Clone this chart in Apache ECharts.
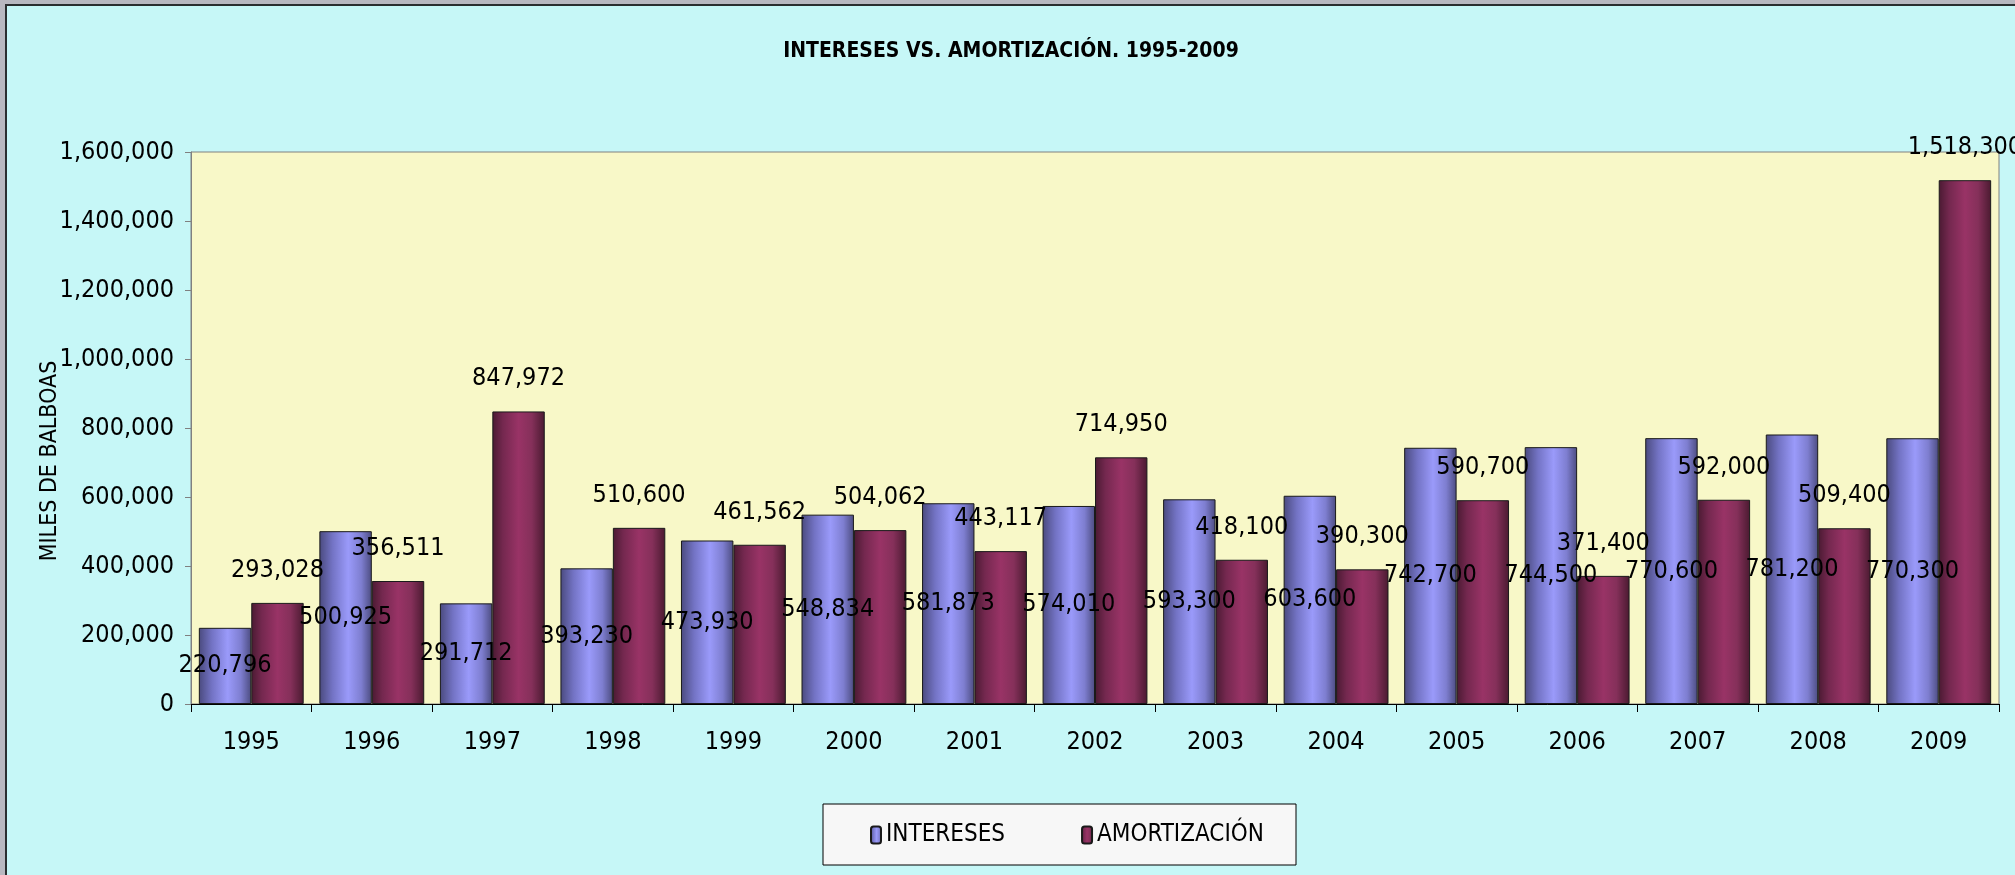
<!DOCTYPE html>
<html>
<head>
<meta charset="utf-8">
<script src="https://cdn.jsdelivr.net/npm/echarts@6/dist/echarts.min.js"></script>
<style>
  html, body { margin: 0; padding: 0; background: #b8b8c0; }
  #frame { position: absolute; left: 5px; top: 4px; width: 2010px; height: 871px;
           border-left: 2px solid #2a2e30; border-top: 2px solid #2a2e30; box-sizing: border-box; }
  #main { width: 100%; height: 100%; }
</style>
</head>
<body>
<div id="frame"><div id="main"></div></div>
<script>
// datos
const years = ["1995", "1996", "1997", "1998", "1999", "2000", "2001", "2002",
  "2003", "2004", "2005", "2006", "2007", "2008", "2009"];
const intereses = [220796, 500925, 291712, 393230, 473930, 548834, 581873, 574010,
  593300, 603600, 742700, 744500, 770600, 781200, 770300];
const amortizacion = [293028, 356511, 847972, 510600, 461562, 504062, 443117, 714950,
  418100, 390300, 590700, 371400, 592000, 509400, 1518300];
const yTicks = [0, 200000, 400000, 600000, 800000, 1000000, 1200000, 1400000, 1600000];

const FONT = "'Liberation Sans Narrow', 'Arial Narrow', 'DejaVu Sans Condensed', sans-serif";
const fmt = v => v.toLocaleString("en-US");

const myChart = echarts.init(document.getElementById("main"));

function grad(stops) {
  return new echarts.graphic.LinearGradient(0, 0, 1, 0,
    stops.map(s => ({ offset: s[0], color: s[1] })));
}

myChart.setOption({
  backgroundColor: "#c6f7f7",
  animation: false,
  textStyle: { fontFamily: FONT },
  title: {
    text: "INTERESES VS. AMORTIZACIÓN. 1995-2009",
    left: "center",
    top: 30,
    textStyle: { fontSize: 21, fontWeight: "bold", color: "#000", fontFamily: FONT }
  },
  graphic: [
    {
      type: "rect",
      shape: { x: 816, y: 798, width: 473, height: 61 },
      style: { fill: "#f7f7f7", stroke: "#000", lineWidth: 1 },
      z: 0
    },
    {
      type: "text",
      x: 43, y: 455,
      rotation: Math.PI / 2,
      style: {
        text: "MILES DE BALBOAS",
        fontSize: 23, fontFamily: FONT, fill: "#000",
        align: "center", verticalAlign: "middle"
      }
    }
  ],
  legend: {
    left: 858,
    top: 812,
    itemWidth: 10,
    itemHeight: 17,
    itemGap: 76,
    textStyle: { fontSize: 24, color: "#000", fontFamily: FONT },
    data: ["INTERESES", "AMORTIZACIÓN"],
    z: 5
  },
  grid: {
    left: 184, right: 16, top: 146, bottom: 171,
    show: true,
    backgroundColor: "#f8f8c8",
    borderColor: "#808080",
    borderWidth: 1
  },
  xAxis: {
    type: "category",
    data: years,
    axisLine: { lineStyle: { color: "#000", width: 1 } },
    axisTick: { show: true, length: 8, lineStyle: { color: "#000" } },
    axisLabel: { fontSize: 25, color: "#000", margin: 26, fontFamily: FONT }
  },
  yAxis: {
    type: "value",
    min: yTicks[0],
    max: yTicks[yTicks.length - 1],
    interval: yTicks[1] - yTicks[0],
    axisLine: { show: true, lineStyle: { color: "#808080" } },
    axisTick: { show: true, length: 6, lineStyle: { color: "#808080" } },
    splitLine: { show: false },
    axisLabel: { fontSize: 25, color: "#000", margin: 17, fontFamily: FONT, formatter: fmt }
  },
  series: [
    {
      name: "INTERESES",
      type: "bar",
      data: intereses,
      barGap: "0%",
      barCategoryGap: "13%",
      itemStyle: {
        color: grad([[0, "#4a4a7e"], [0.25, "#7373c4"], [0.55, "#9a9afa"], [0.8, "#7e7ed0"], [1, "#4c4c80"]]),
        borderColor: "#1a1a1a",
        borderWidth: 1
      },
      label: {
        show: true,
        position: "inside",
        fontSize: 25,
        color: "#000",
        fontFamily: FONT,
        formatter: p => fmt(p.value)
      }
    },
    {
      name: "AMORTIZACIÓN",
      type: "bar",
      data: amortizacion,
      itemStyle: {
        color: grad([[0, "#4a1a32"], [0.2, "#74284f"], [0.5, "#993366"], [0.75, "#85305a"], [1, "#4a1a30"]]),
        borderColor: "#1a1a1a",
        borderWidth: 1
      },
      label: {
        show: true,
        position: "top",
        distance: 20,
        fontSize: 25,
        color: "#000",
        fontFamily: FONT,
        formatter: p => fmt(p.value)
      }
    }
  ]
});
</script>
</body>
</html>
